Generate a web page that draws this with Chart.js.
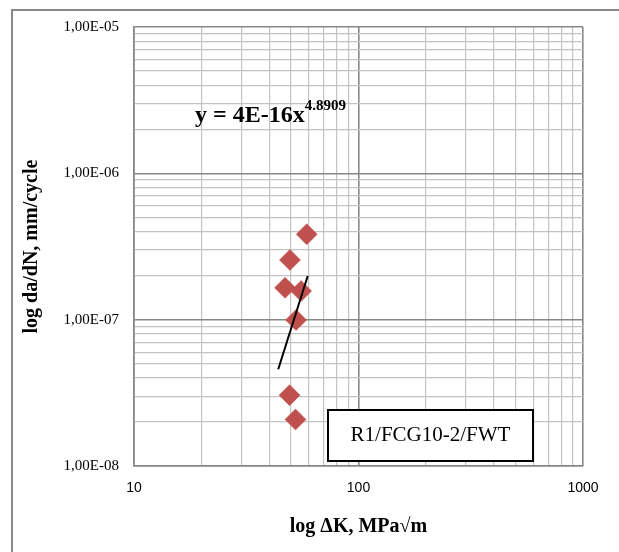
<!DOCTYPE html>
<html lang="en">
  <head>
    <meta charset="UTF-8" />
    <title>log da/dN vs log ΔK</title>
    <script src="https://cdn.jsdelivr.net/npm/chart.js"></script>
    <style>
      body { margin: 0; background: #fff; }
    </style>
  </head>
  <body>
    <canvas id="myChart" width="619" height="552"></canvas>

    <script>
      // measured points (ΔK, da/dN)
      const deltaK = [58.8, 49.5, 47.1, 55.5, 52.7, 49.3, 52.4];
      const dadN = [3.83e-7, 2.56e-7, 1.65e-7, 1.57e-7, 9.95e-8, 3.05e-8, 2.08e-8];

      // power trendline end points as drawn
      const trendK = [43.9, 59.4];
      const trendRate = [4.58e-8, 1.99e-7];

      // axis ticks
      const xDecades = [10, 100, 1000];
      const xTickLabels = ["10", "100", "1000"];
      const yDecades = [1e-8, 1e-7, 1e-6, 1e-5];
      const yTickLabels = ["1,00E-08", "1,00E-07", "1,00E-06", "1,00E-05"];

      const equation = "y = 4E-16x";
      const exponent = "4.8909";
      const seriesName = "R1/FCG10-2/FWT";

      const serif = "'Liberation Serif', 'Times New Roman', serif";

      // 1..9 x each decade, for the log grid
      function logGrid(decades) {
        const vals = [];
        for (let i = 0; i < decades.length - 1; i++) {
          for (let m = 1; m < 10; m++) vals.push(m * decades[i]);
        }
        vals.push(decades[decades.length - 1]);
        return vals;
      }

      function isDecade(v, decades) {
        return decades.some((d) => Math.abs(v / d - 1) < 1e-6);
      }

      function labelFor(v, decades, labels) {
        const i = decades.findIndex((d) => Math.abs(v / d - 1) < 1e-6);
        return i >= 0 ? labels[i] : "";
      }

      const points = deltaK.map((k, i) => ({ x: k, y: dadN[i] }));
      const trend = trendK.map((k, i) => ({ x: k, y: trendRate[i] }));

      // outer frame + equation + series box
      const extras = {
        id: "extras",
        beforeDraw(chart) {
          const c = chart.ctx;
          c.save();
          c.strokeStyle = "#8a8a8a";
          c.lineWidth = 2;
          c.strokeRect(12, 10, 700, 700);
          c.restore();
        },
        afterDatasetsDraw(chart) {
          const c = chart.ctx;
          c.save();
          c.fillStyle = "#000";
          c.textBaseline = "alphabetic";
          c.font = "bold 24px " + serif;
          c.fillText(equation, 195, 122);
          const w = c.measureText(equation).width;
          c.font = "bold 15px " + serif;
          c.fillText(exponent, 195 + w, 110);

          // series label box
          c.fillStyle = "#fff";
          c.fillRect(328, 410, 205, 51);
          c.strokeStyle = "#000";
          c.lineWidth = 2;
          c.strokeRect(328, 410, 205, 51);
          c.fillStyle = "#000";
          c.font = "21px " + serif;
          c.textAlign = "center";
          c.textBaseline = "middle";
          c.fillText(seriesName, 430.5, 435);
          c.restore();
        },
      };

      const gridColor = (decades) => (ctx) =>
        ctx.tick && isDecade(ctx.tick.value, decades) ? "#878787" : "#c3c3c3";
      const gridWidth = (decades) => (ctx) =>
        ctx.tick && isDecade(ctx.tick.value, decades) ? 1.6 : 1.2;

      new Chart(document.getElementById("myChart"), {
        type: "scatter",
        data: {
          datasets: [
            {
              label: "data",
              data: points,
              pointStyle: "rectRot",
              pointRadius: 10.5,
              backgroundColor: "#c0504d",
              borderColor: "#c0504d",
              borderWidth: 0.5,
              order: 1,
            },
            {
              label: "trend",
              data: trend,
              showLine: true,
              pointRadius: 0,
              borderColor: "#000",
              borderWidth: 2,
              order: 0,
            },
          ],
        },
        plugins: [extras],
        options: {
          responsive: false,
          animation: false,
          devicePixelRatio: 1,
          layout: { padding: { left: 0, top: 27, right: 36, bottom: 0 } },
          plugins: {
            legend: { display: false },
            tooltip: { enabled: false },
          },
          scales: {
            x: {
              type: "logarithmic",
              min: 10,
              max: 1000,
              afterBuildTicks: (s) => {
                s.ticks = logGrid(xDecades).map((v) => ({ value: v }));
              },
              afterFit: (s) => {
                s.height = 86;
              },
              grid: {
                color: gridColor(xDecades),
                lineWidth: gridWidth(xDecades),
                drawTicks: false,
              },
              border: { color: "#878787", width: 1.6 },
              ticks: {
                autoSkip: false,
                maxRotation: 0,
                padding: 14,
                color: "#000",
                font: { family: "'Liberation Sans', Arial, sans-serif", size: 14 },
                callback: (v) => labelFor(v, xDecades, xTickLabels),
              },
              title: {
                display: true,
                text: "log ΔK, MPa√m",
                color: "#000",
                font: { family: serif, size: 20, weight: "bold" },
                padding: { top: 0, bottom: 13 },
              },
            },
            y: {
              type: "logarithmic",
              min: 1e-8,
              max: 1e-5,
              afterBuildTicks: (s) => {
                s.ticks = logGrid(yDecades).map((v) => ({ value: v }));
              },
              afterFit: (s) => {
                s.width = 134;
              },
              grid: {
                color: gridColor(yDecades),
                lineWidth: gridWidth(yDecades),
                drawTicks: false,
              },
              border: { color: "#878787", width: 1.6 },
              ticks: {
                autoSkip: false,
                padding: 15,
                color: "#000",
                font: { family: serif, size: 15 },
                callback: (v) => labelFor(v, yDecades, yTickLabels),
              },
              title: {
                display: true,
                text: "log da/dN, mm/cycle",
                color: "#000",
                font: { family: serif, size: 20, weight: "bold" },
                padding: { top: 20, bottom: 0 },
              },
            },
          },
        },
      });
    </script>
  </body>
</html>
